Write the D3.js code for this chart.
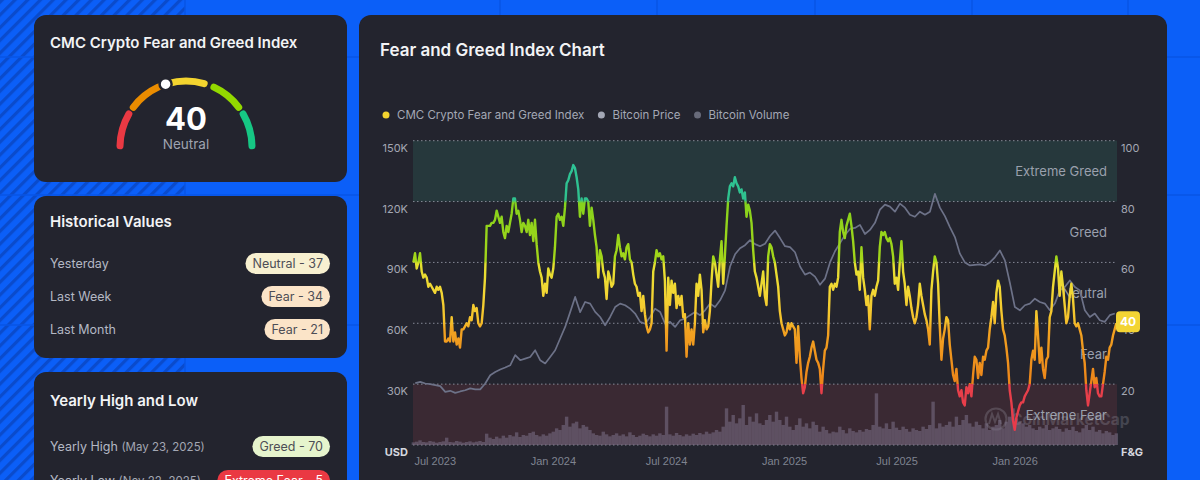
<!DOCTYPE html>
<html>
<head>
<meta charset="utf-8">
<script src="https://cdn.jsdelivr.net/npm/d3@7"></script>
<style>
  body { margin: 0; background: #0b5ff8; overflow: hidden; }
  svg { display: block; font-family: Inter, "Noto Sans", sans-serif; }
</style>
</head>
<body>
<svg id="chart" width="1200" height="480"></svg>
<script>
// values
// fear & greed index, one reading every ~2.64 days
var fgStart = "2023-06-30", fgStepDays = 2.637;
var fgValues = [
  60,63,58,60,63,57,55,56,55,52, 53,52,51,50,52,51,52,50,46,34,
  34,35,34,42,34,37,33,35,32,38, 38,39,40,39,42,41,46,44,45,40,
  39,40,46,55,72,72,72,73,73,74, 77,75,73,75,70,68,72,70,73,76,
  81,81,76,77,74,70,73,72,70,74, 69,73,67,74,66,60,57,55,49,53,
  50,58,56,55,58,65,75,76,74,75, 72,78,86,87,89,90,92,91,88,84,
  75,81,76,
  81,81,80,72,78,74,69,65,55,64, 62,57,55,48,57,55,52,53,62,64,
  69,65,62,63,61,65,66,61,60,56, 53,52,49,50,44,49,43,39,37,38,
  40,57,60,64,62,63,61,62,54,31, 55,46,54,50,53,45,49,46,49,42,
  43,29,40,33,38,33,40,53,49,56, 51,37,41,38,39,44,54,62,60,56,
  52,61,67,53,62,72,81,85,86,85, 88,86,85,83,84,81,83,75,79,77,
  73,64,57,55,52,49,53,57, 49,46,
  62,66,65,62,60,56,52,44,40,38, 36,37,40,38,40,39,38,27,39,29,
  22,17,19,24,27,29,32,34,31,28, 27,25,17,25,31,32,36,52,53,51,
  53,52,55,70,74,70,68,72,74,76, 72,67,60,56,57,51,65,55,51,46,
  49,38,49,51,49,52,54,65,70,69, 70,68,67,68,66,62,53,55,51,60,
  67,57,53,46,52,49,45,42,40,42, 46,53,49,46,43,41,38,33,51,57,
  62,60,53,
  39,28,35,38,42,41,33,28,23,21, 25,18,16,18,14,13,19,17,20,16,
  23,29,28,22,27,23,29,28,31,32, 38,42,47,40,50,54,52,44,38,36,
  32,27,18,14,8,5,9,11,13,14, 14,16,17,18,20,28,31,28,44,36,
  27,32,25,22,28,29,42,44,52,57, 62,58,49,57,52,46,40,42,49,53,
  48,40,39,40,38,36,31,27,18,13, 17,21,25,19,22,17,16,16,20,24,
  29,28,32,33,36,38,40
];

// bitcoin price in thousand USD, one reading every ~7.9 days
var priceStart = "2023-07-03", priceStepDays = 7.91;
var priceValues = [
  30.5,31.1,30.3,30.0,29.5,29.0,26.2,26.7,25.7,26.4,27.0,27.9,27.4,27.4,30.3,34.4,36.0,37.2,
  38.2,39.3,44.3,41.8,42.6,43.4,46.7,41.8,40.2,43.4,46.7,52.5,58.2,65.5,73.0,65.5,70.5,
  69.7,65.6,63.1,59.0,63.1,68.0,69.7,68.9,67.2,64.8,60.7,59.8,63.1,67.2,65.6,59.8,60.7,58.2,
  61.5,62.3,64.0,65.6,64.0,66.4,69.7,68.0,71.3,76.2,88.0,94.0,97.0,98.5,101.0,99.0,98.0,99.2,
  103,105.7,102,98,97.5,95,88,84,85,83,79,82,90,95.5,99.5,103.5,106.5,107,
  108.5,104,106,109.5,116,118.5,117.5,115,119,117,113.5,112.5,115,113.5,115,123.8,117,112.8,
  107.4,102.5,94.3,90,88.5,88.8,89,88.5,90,92.5,95.9,91,80,68,66.4,68.9,69.7,
  72.1,70.5,69.7,66.4,69.7,76.2,77.9,81.1,77.9,76.2,66.4,63.1,64.8,61.5,60.7,64.0,64.8
];

// bitcoin volume in billion USD, one reading every ~5.3 days
var volStart = "2023-06-30", volStepDays = 5.274;
var volValues = [
  8,10,14,9,8,12,10,7,9,11, 22,9,8,12,10,7,9,11,8,10,12,9,
  34,22,18,25,20,28,22,30,26,38, 24,30,28,36,40,30,26,32,28,35,40,
  50,45,60,85,55,65,70,50,60,55,
  45,35,30,28,40,32,26,30,35, 28,32,26,38,30,24,28,34,30,26,
  32,28,35,30,115,32,28,36,30,26,32, 28,34,30,36,32,40,34,38,45,40,
  55,110,70,90,65,80,120,60,85,70,95,65,60,75,
  90,70,100,75,60,85,55,45,60, 80,55,65,50,70,60,40,55,45,35,
  40,38,55,45,35,50,42,38,45,40,48, 45,60,155,55,50,65,48,70,52,45,
  55,48,40,50,45,42,55,48,60,130,50,65,55,60,
  70,55,85,60,75,90,65,55,70,60, 50,65,45,55,60,75,50,70,85,110,80,
  70,65,55,60,50,45,55,50,60,45,50, 55,48,40,50,45,55,42,38,50,60,45,
  55,40,45,35,42,38,30,35
];

var priceTicks = [0, 30, 60, 90, 120, 150];
var fgTicks = [0, 20, 40, 60, 80, 100];
var xTicks = ["2023-07-01", "2024-01-01", "2024-07-01", "2025-01-01", "2025-07-01", "2026-01-01"];
var zoneNames = ["Extreme Fear", "Fear", "Neutral", "Greed", "Extreme Greed"];
var zoneLow = [0, 20, 40, 60, 80];

var currentValue = 40, currentLabel = "Neutral";
var histLabels = ["Yesterday", "Last Week", "Last Month"];
var histBadges = ["Neutral - 37", "Fear - 34", "Fear - 21"];
var yearLabels = ["Yearly High", "Yearly Low"];
var yearDates = ["(May 23, 2025)", "(Nov 22, 2025)"];
var yearBadges = ["Greed - 70", "Extreme Fear - 5"];

var DAY = 864e5;
function seriesDates(start, step, vals) {
  var t0 = Date.parse(start + "T00:00:00Z");
  return vals.map(function(v, i) { return { date: new Date(t0 + i * step * DAY), v: v }; });
}
var fgData = seriesDates(fgStart, fgStepDays, fgValues);
var priceData = seriesDates(priceStart, priceStepDays, priceValues);
var volData = seriesDates(volStart, volStepDays, volValues);

var svg = d3.select("#chart");
var defs = svg.append("defs");

// blue backdrop with stripes and faint tile lines
var pat = defs.append("pattern").attr("id", "stripes").attr("width", 9).attr("height", 9)
  .attr("patternUnits", "userSpaceOnUse").attr("patternTransform", "rotate(45)");
pat.append("rect").attr("width", 3.2).attr("height", 9).attr("fill", "#0a4bcc");
svg.append("rect").attr("width", 1200).attr("height", 480).attr("fill", "#0b5ff8");
svg.append("rect").attr("width", 185).attr("height", 480).attr("fill", "url(#stripes)");
[185, 500, 657, 815, 972, 1128].forEach(function(x) {
  svg.append("line").attr("x1", x).attr("x2", x).attr("y1", 0).attr("y2", 480)
    .attr("stroke", "#0955e6").attr("stroke-width", 1.5);
});
[57, 195, 325].forEach(function(y) {
  svg.append("line").attr("x1", 0).attr("x2", 1200).attr("y1", y).attr("y2", y)
    .attr("stroke", "#0955e6").attr("stroke-width", 1.5);
});

function card(x, y, w, h) {
  svg.append("rect").attr("x", x).attr("y", y).attr("width", w).attr("height", h)
    .attr("rx", 12).attr("fill", "#23242e");
}
card(34, 15, 313, 167);
card(34, 196, 313, 162);
card(34, 372, 313, 140);
card(359, 15, 808, 490);

function title(x, y, txt, size) {
  svg.append("text").attr("x", x).attr("y", y).attr("fill", "#f2f3f5")
    .attr("font-size", size).attr("font-weight", 600).text(txt);
}
title(50, 48, "CMC Crypto Fear and Greed Index", 15);
title(50, 227, "Historical Values", 15);
title(50, 406, "Yearly High and Low", 15);
title(380, 56, "Fear and Greed Index Chart", 17);

// gauge
var gaugeColors = ["#ea3943", "#ea8c00", "#f3d42f", "#93d900", "#16c784"];
var gaugeSpans = [[1, 30], [37, 65], [74, 106], [115, 143], [150, 179]];
var gauge = svg.append("g").attr("transform", "translate(186,147)");
var R = 66;
gaugeSpans.forEach(function(s, i) {
  var p = d3.path();
  var a0 = Math.PI + s[0] / 180 * Math.PI, a1 = Math.PI + s[1] / 180 * Math.PI;
  p.arc(0, 0, R, a0, a1);
  gauge.append("path").attr("d", p.toString()).attr("fill", "none")
    .attr("stroke", gaugeColors[i]).attr("stroke-width", 7).attr("stroke-linecap", "round");
});
var ang = Math.PI + currentValue / 100 * Math.PI;
gauge.append("circle").attr("cx", R * Math.cos(ang)).attr("cy", R * Math.sin(ang)).attr("r", 6)
  .attr("fill", "#ffffff").attr("stroke", "#23242e").attr("stroke-width", 2.5);
gauge.append("text").attr("y", -17).attr("text-anchor", "middle").attr("fill", "#ffffff")
  .attr("font-size", 31).attr("font-weight", 700).text(currentValue);
gauge.append("text").attr("y", 2).attr("text-anchor", "middle").attr("fill", "#9fa3b0")
  .attr("font-size", 13.5).text(currentLabel);

// badge helper: right aligned pill
var badgeFill = { "Neutral": "#f7f0d0", "Fear": "#fbe4c8", "Greed": "#e6f4cd", "Extreme Fear": "#ea3943" };
function badge(right, baseline, txt) {
  var kind = txt.split(" - ")[0];
  var g = svg.append("g");
  var t = g.append("text").attr("y", baseline).attr("font-size", 12.5)
    .attr("fill", kind === "Extreme Fear" ? "#ffffff" : "#4d4e56").text(txt);
  var w = t.node().getComputedTextLength();
  t.attr("x", right - 7 - w);
  g.insert("rect", "text").attr("x", right - w - 14).attr("y", baseline - 15)
    .attr("width", w + 14).attr("height", 21).attr("rx", 10.5).attr("fill", badgeFill[kind]);
}

histLabels.forEach(function(l, i) {
  var y = 268 + i * 33;
  svg.append("text").attr("x", 50).attr("y", y).attr("font-size", 12.5).attr("fill", "#b4b8c4").text(l);
  badge(330, y, histBadges[i]);
});
yearLabels.forEach(function(l, i) {
  var y = 451 + i * 34;
  var t = svg.append("text").attr("x", 50).attr("y", y).attr("font-size", 12.5).attr("fill", "#b4b8c4");
  t.append("tspan").text(l + " ");
  t.append("tspan").attr("font-size", 11.5).attr("fill", "#a3a7b3").text(yearDates[i]);
  badge(330, y, yearBadges[i]);
});

// legend
var legend = [["CMC Crypto Fear and Greed Index", "#f3d42f"], ["Bitcoin Price", "#a3a7b5"], ["Bitcoin Volume", "#686b7a"]];
var lx = 386;
legend.forEach(function(d) {
  svg.append("circle").attr("cx", lx).attr("cy", 115).attr("r", 3.5).attr("fill", d[1]);
  var t = svg.append("text").attr("x", lx + 11).attr("y", 119).attr("font-size", 11.5)
    .attr("fill", "#a4a8b5").text(d[0]);
  lx += 11 + t.node().getComputedTextLength() + 17;
});

// scales
var x0 = 413, x1 = 1117, yTop = 140.7, yBot = 445;
var x = d3.scaleUtc().domain([new Date(Date.UTC(2023, 6, 1)), new Date(Date.UTC(2026, 0, 1))]).range([414, 992]);
var yPrice = d3.scaleLinear().domain([0, 150]).range([yBot, yTop]);
var yFG = d3.scaleLinear().domain([0, 100]).range([yBot, yTop]);
var yVol = d3.scaleLinear().domain([0, 300]).range([yBot, yBot - 100]);

var plot = svg.append("g");
plot.append("rect").attr("x", x0).attr("width", x1 - x0).attr("y", yFG(100)).attr("height", yFG(80) - yFG(100))
  .attr("fill", "#26383c");
plot.append("rect").attr("x", x0).attr("width", x1 - x0).attr("y", yFG(20)).attr("height", yFG(0) - yFG(20))
  .attr("fill", "#3a2933");

fgTicks.forEach(function(t) {
  plot.append("line").attr("x1", x0).attr("x2", x1).attr("y1", yFG(t)).attr("y2", yFG(t))
    .attr("stroke", "#858996").attr("stroke-width", 1).attr("stroke-dasharray", "1.5 2.5");
});

zoneNames.forEach(function(n, i) {
  plot.append("text").attr("x", 1107).attr("y", yFG(zoneLow[i] + 10) + 5).attr("text-anchor", "end")
    .attr("font-size", 13).attr("fill", "#9aa0ad").text(n);
});

// watermark
var wm = plot.append("g").attr("opacity", 0.22);
wm.append("circle").attr("cx", 996).attr("cy", 419).attr("r", 10.5).attr("fill", "none")
  .attr("stroke", "#b8bcc8").attr("stroke-width", 2.2);
wm.append("path").attr("d", "M989,424 L992,414 L995,422 L998,414 L1001,424")
  .attr("fill", "none").attr("stroke", "#b8bcc8").attr("stroke-width", 2);
wm.append("text").attr("x", 1011).attr("y", 425).attr("font-size", 15.5).attr("font-weight", 700)
  .attr("fill", "#b8bcc8").text("CoinMarketCap");

// volume bars
var bw = 3.4;
plot.append("g").selectAll("rect").data(volData).join("rect")
  .attr("x", function(d) { return x(d.date) - bw / 2; })
  .attr("width", bw)
  .attr("y", function(d) { return yVol(d.v); })
  .attr("height", function(d) { return yBot - yVol(d.v); })
  .attr("fill", "#7c7189").attr("opacity", 0.55);

// price line
plot.append("path").datum(priceData)
  .attr("d", d3.line().x(function(d) { return x(d.date); }).y(function(d) { return yPrice(d.v); }))
  .attr("fill", "none").attr("stroke", "#6d7288").attr("stroke-width", 1.7).attr("stroke-linejoin", "round");

// fear & greed line, coloured by value
var grad = defs.append("linearGradient").attr("id", "fgGrad").attr("gradientUnits", "userSpaceOnUse")
  .attr("x1", 0).attr("x2", 0).attr("y1", yFG(0)).attr("y2", yFG(100));
[[0, "#e8384a"], [19.9, "#e8404a"], [20.1, "#ec8419"], [38, "#f2a321"], [40.5, "#f5c02b"],
 [50, "#f3d634"], [59.5, "#e3e030"], [60.5, "#a4d61a"], [79.5, "#86d21c"], [80.5, "#2fc28e"], [100, "#2dc59c"]]
  .forEach(function(s) {
    grad.append("stop").attr("offset", s[0] / 100).attr("stop-color", s[1]);
  });
plot.append("path").datum(fgData)
  .attr("d", d3.line().x(function(d) { return x(d.date); }).y(function(d) { return yFG(d.v); }))
  .attr("fill", "none").attr("stroke", "url(#fgGrad)").attr("stroke-width", 2.4).attr("stroke-linejoin", "round");

// axes
function styleAxis(g) {
  g.select(".domain").remove();
  g.selectAll("text").attr("font-family", "Inter, sans-serif").attr("font-size", 11)
    .attr("font-weight", function(d) { return d === 0 ? 700 : 400; })
    .attr("fill", function(d) { return d === 0 ? "#d4d7df" : "#a3a7b3"; })
    .attr("dy", "0.95em");
}
var gl = svg.append("g").attr("transform", "translate(409,0)")
  .call(d3.axisLeft(yPrice).tickValues(priceTicks).tickSize(0).tickPadding(1)
    .tickFormat(function(d) { return d === 0 ? "USD" : d + "K"; }));
styleAxis(gl);

var gr = svg.append("g").attr("transform", "translate(1118,0)")
  .call(d3.axisRight(yFG).tickValues(fgTicks).tickSize(0).tickPadding(3)
    .tickFormat(function(d) { return d === 0 ? "F&G" : d; }));
styleAxis(gr);

var gx = svg.append("g").attr("transform", "translate(0,454)")
  .call(d3.axisBottom(x).tickValues(xTicks.map(function(s) { return new Date(s + "T00:00:00Z"); }))
    .tickSize(0).tickPadding(3).tickFormat(d3.utcFormat("%b %Y")));
gx.select(".domain").remove();
gx.selectAll("text").attr("text-anchor", "start").attr("font-size", 11).attr("fill", "#7f8390");

// current value badge
var last = fgData[fgData.length - 1];
svg.append("rect").attr("x", 1116).attr("y", yFG(last.v) - 12).attr("width", 24).attr("height", 21)
  .attr("rx", 4).attr("fill", "#f3d434");
svg.append("text").attr("x", 1128).attr("y", yFG(last.v) + 3).attr("text-anchor", "middle")
  .attr("font-size", 12).attr("font-weight", 700).attr("fill", "#ffffff").text(last.v);
</script>
</body>
</html>
